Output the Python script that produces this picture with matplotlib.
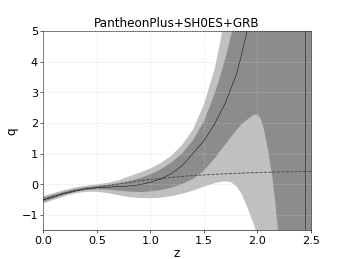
import numpy as np
import matplotlib
matplotlib.use("Agg")
import matplotlib.pyplot as plt

# reconstructed q(z) bands
z_band = [0.0, 0.1, 0.2, 0.3, 0.4, 0.5, 0.6, 0.7, 0.8, 0.9, 1.0, 1.1, 1.2, 1.3,
          1.4, 1.5, 1.6, 1.65, 1.7, 1.75, 1.8, 1.85, 1.9, 1.95, 1.98, 2.0, 2.03,
          2.06, 2.1, 2.14, 2.17, 2.2, 2.3, 2.4, 2.5]
up2 = [-0.38, -0.28, -0.18, -0.10, -0.04, 0.00, 0.05, 0.13, 0.26, 0.38, 0.52,
       0.70, 0.95, 1.30, 1.80, 2.60, 3.75, 4.60, 5.60, 6.80, 8.0, 9.0, 10.0,
       11.0, 11.5, 12.0, 12.5, 13.0, 13.5, 14.0, 14.5, 15.0, 16.0, 18.0, 20.0]
up1 = [-0.43, -0.33, -0.23, -0.15, -0.09, -0.05, -0.01, 0.04, 0.11, 0.20, 0.33,
       0.50, 0.72, 1.02, 1.45, 2.05, 2.95, 3.50, 4.10, 4.80, 5.50, 6.30, 7.0,
       7.7, 8.1, 8.4, 8.8, 9.2, 9.7, 10.2, 10.6, 11.0, 12.5, 14.0, 16.0]
lo1 = [-0.57, -0.45, -0.33, -0.24, -0.18, -0.16, -0.17, -0.20, -0.23, -0.25,
       -0.23, -0.18, -0.10, 0.02, 0.18, 0.45, 0.85, 1.08, 1.30, 1.53, 1.75,
       1.95, 2.10, 2.23, 2.28, 2.27, 2.15, 1.80, 1.10, 0.20, -0.70, -1.80,
       -6.0, -12.0, -20.0]
lo2 = [-0.62, -0.50, -0.38, -0.29, -0.24, -0.24, -0.28, -0.35, -0.41, -0.44,
       -0.45, -0.43, -0.38, -0.30, -0.20, -0.07, 0.04, 0.08, 0.10, 0.08, -0.05,
       -0.30, -0.70, -1.15, -1.45, -1.75, -2.2, -2.8, -3.5, -4.5, -5.5, -6.5,
       -10.0, -15.0, -20.0]

z_mean = [0.0, 0.1, 0.2, 0.3, 0.4, 0.5, 0.6, 0.7, 0.8, 0.9, 1.0, 1.1, 1.2, 1.3,
          1.4, 1.5, 1.6, 1.7, 1.8, 1.85, 1.9, 1.95, 2.0, 2.1, 2.2, 2.3, 2.4,
          2.447, 2.448, 2.5]
q_mean = [-0.50, -0.39, -0.28, -0.20, -0.14, -0.11, -0.09, -0.07, -0.05, -0.01,
          0.07, 0.18, 0.36, 0.62, 1.02, 1.42, 1.97, 2.65, 3.55, 4.20, 4.95,
          5.6, 6.3, 8.5, 12.0, 20.0, 50.0, 1000.0, -1000.0, -50.0]

z_lcdm = [0.0, 0.1, 0.2, 0.3, 0.4, 0.5, 0.6, 0.7, 0.8, 0.9, 1.0, 1.2, 1.4, 1.6,
          1.8, 2.0, 2.25, 2.5]
q_lcdm = [-0.50, -0.40, -0.30, -0.22, -0.15, -0.09, -0.04, 0.01, 0.06, 0.12,
          0.16, 0.23, 0.29, 0.33, 0.36, 0.39, 0.41, 0.42]

fig, ax = plt.subplots(figsize=(6.4, 4.8), dpi=54)

ax.fill_between(z_band, lo2, up2, color="#c0c0c0", lw=0, zorder=1)
ax.fill_between(z_band, lo1, up1, color="#8c8c8c", lw=0, zorder=2)
ax.plot(z_mean, q_mean, color="#111111", lw=0.7, zorder=4)
ax.plot(z_lcdm, q_lcdm, "--", color="#444444", lw=1.1, zorder=3)

ax.set_xlim(0, 2.5)
ax.set_ylim(-1.5, 5)
ax.set_xticks(np.arange(0, 2.51, 0.5))
ax.set_yticks(np.arange(-1, 5.1, 1))
ax.tick_params(labelsize=15)
ax.grid(True, ls=":", color="#cccccc", lw=0.8, zorder=0)
ax.set_axisbelow(False)

ax.set_title("PantheonPlus+SH0ES+GRB", fontsize=16)
ax.set_xlabel("z", fontsize=16, labelpad=1)
ax.set_ylabel("q", fontsize=16)

plt.savefig("out.png", dpi=54)
